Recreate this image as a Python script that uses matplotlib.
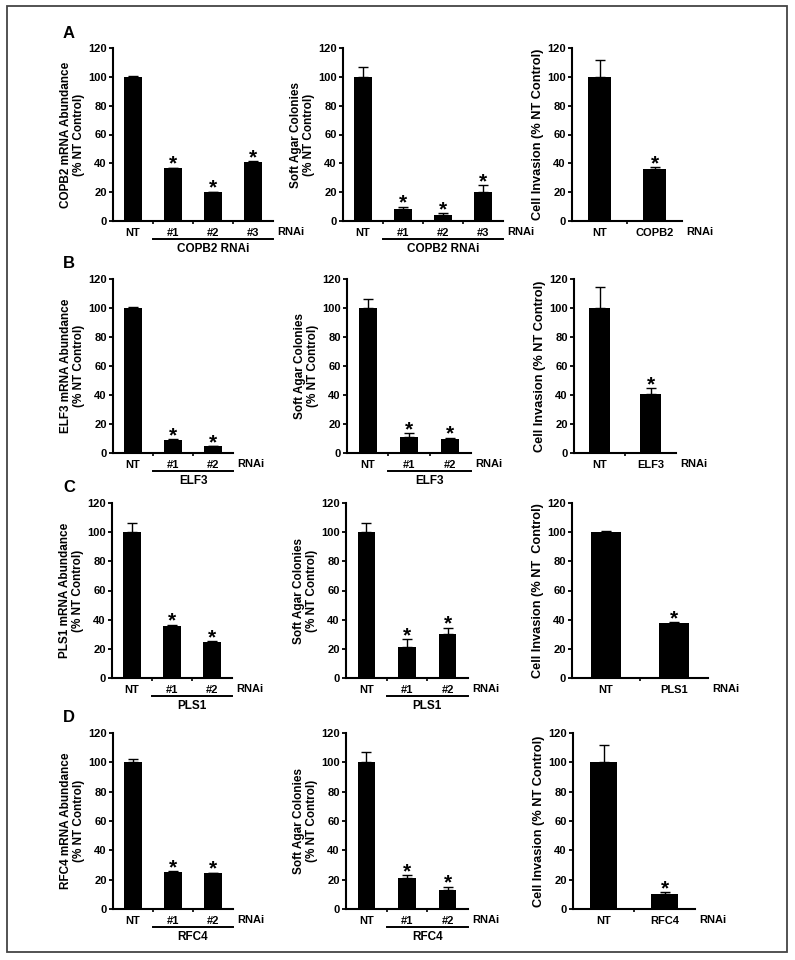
import numpy as np
import matplotlib
matplotlib.use("Agg")
import matplotlib.pyplot as plt
from matplotlib.transforms import ScaledTranslation
from matplotlib.patches import Rectangle

plt.rcParams['font.family'] = ['Liberation Sans', 'DejaVu Sans']
plt.rcParams['font.weight'] = 'bold'

# data (% NT control)
genes = ["COPB2", "ELF3", "PLS1", "RFC4"]
panel_letters = ["A", "B", "C", "D"]
group_labels = ["COPB2 RNAi", "ELF3", "PLS1", "RFC4"]

mrna_cats = [["NT", "#1", "#2", "#3"], ["NT", "#1", "#2"], ["NT", "#1", "#2"], ["NT", "#1", "#2"]]
mrna_vals = [[100, 36.5, 20, 41], [100, 9, 4.5], [100, 36, 25], [100, 25.5, 24.5]]
mrna_err = [[0.5, 0.6, 0.4, 0.6], [1, 0.4, 0.3], [6.3, 0.6, 0.5], [2.5, 0.5, 0.3]]

agar_vals = [[100, 8.5, 4.5, 20], [100, 11, 9.7], [100, 21.5, 30], [100, 21, 13]]
agar_err = [[6.6, 1.5, 0.8, 5], [6, 2.8, 0.9], [6.6, 5, 4.5], [7, 2, 2.3]]

inv_vals = [[100, 36], [100, 40.5], [100, 37.5], [100, 10.5]]
inv_err = [[12, 1.2], [14.5, 4.2], [0.6, 0.7], [11.5, 1]]

yticks = [0, 20, 40, 60, 80, 100, 120]

# layout in pixels: (x_left, x_right) per column, (y_top, y_bottom) per row
W, H = 795, 960
rows_y = [(48, 221), (279, 453), (503, 678), (733, 909)]
col_x = [
    [(113, 273), (343, 503), (572, 682)],
    [(113, 233), (347, 471), (574, 676)],
    [(112, 232), (346, 468), (572, 708)],
    [(113, 233), (346, 468), (573, 695)],
]

fig = plt.figure(figsize=(W / 100, H / 100), dpi=100)
fig.patches.append(Rectangle((7 / W, 1 - 952 / H), 780 / W, 946 / H, transform=fig.transFigure,
                             fill=False, edgecolor="#444444", lw=1.3))


def bar_panel(ax, cats, vals, errs, ylabel, group=None, ylabel_size=8.5):
    n = len(cats)
    x = np.arange(n)
    ax.bar(x, vals, width=0.43, color="black", zorder=2)
    ax.errorbar(x, vals, yerr=[np.zeros(n), errs], fmt="none", ecolor="black",
                elinewidth=1.0, capsize=3.5, capthick=1.0, zorder=1)
    ax.set_xlim(-0.5, n - 0.5)
    ax.set_ylim(0, 120)
    ax.set_yticks(yticks)
    ax.set_xticks(x)
    ax.set_xticklabels(cats)
    ax.set_xticks(np.arange(0.5, n - 0.5), minor=True)
    ax.tick_params(axis="x", which="major", length=0, pad=5, labelsize=8)
    ax.tick_params(axis="x", which="minor", length=2.5, width=1.2, direction="out")
    ax.tick_params(axis="y", length=3, width=1.3, pad=1.5, labelsize=8)
    for s in ["top", "right"]:
        ax.spines[s].set_visible(False)
    for s in ["left", "bottom"]:
        ax.spines[s].set_linewidth(1.5)
    ax.set_ylabel(ylabel, fontsize=ylabel_size, fontweight="bold", labelpad=2, linespacing=1.1)

    # asterisks over knockdown bars
    for i in range(1, n):
        ax.annotate("*", xy=(i, vals[i] + errs[i]), xytext=(0, -1.5), textcoords="offset points",
                    ha="center", va="baseline", fontsize=15, fontweight="bold")

    ax.annotate("RNAi", xy=(n - 0.5, 0), xytext=(3, -8), textcoords="offset points",
                ha="left", va="center", fontsize=8, fontweight="bold", annotation_clip=False)

    if group is not None:
        off = ScaledTranslation(0, -18 / 100, fig.dpi_scale_trans)
        ax.plot([0.5, n - 0.5], [0, 0], color="black", lw=1.4, clip_on=False,
                transform=ax.transData + off)
        ax.annotate(group, xy=(n / 2, 0), xytext=(0, -20), textcoords="offset points",
                    ha="center", va="center", fontsize=8.5, fontweight="bold", annotation_clip=False)


for r in range(4):
    yt, yb = rows_y[r]
    for c in range(3):
        xl, xr = col_x[r][c]
        ax = fig.add_axes([xl / W, 1 - yb / H, (xr - xl) / W, (yb - yt) / H])
        if c == 0:
            bar_panel(ax, mrna_cats[r], mrna_vals[r], mrna_err[r],
                      genes[r] + " mRNA Abundance\n(% NT Control)", group_labels[r])
        elif c == 1:
            bar_panel(ax, mrna_cats[r], agar_vals[r], agar_err[r],
                      "Soft Agar Colonies\n(% NT Control)", group_labels[r])
        else:
            lab = "Cell Invasion (% NT  Control)" if r == 2 else "Cell Invasion (% NT Control)"
            bar_panel(ax, ["NT", genes[r]], inv_vals[r], inv_err[r], lab, ylabel_size=9.2)
    fig.text(69 / W, 1 - (yt - 15) / H, panel_letters[r], fontsize=12, fontweight="bold",
             ha="center", va="center")

fig.savefig("out.png", dpi=100)
